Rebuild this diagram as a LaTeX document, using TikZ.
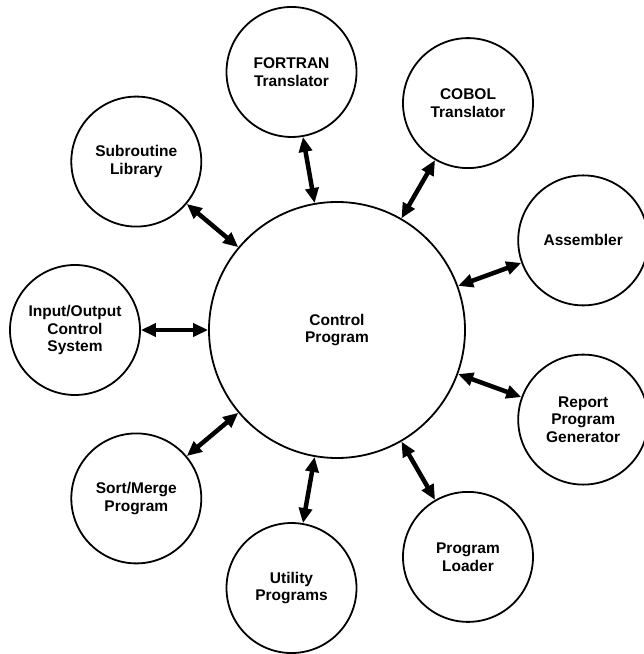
\documentclass[tikz,border=0pt]{standalone}
\usepackage{fontspec}
\setmainfont{Liberation Sans}
\usetikzlibrary{arrows.meta}
\begin{document}
\begin{tikzpicture}[x=1pt,y=1pt,
  every node/.style={font=\fontsize{15.5}{17.7}\selectfont\bfseries, align=center},
  hub/.style={circle, draw, line width=1.8pt, minimum size=256pt, inner sep=0pt, outer sep=0pt},
  sat/.style={circle, draw, line width=1.8pt, minimum size=130pt, inner sep=0pt, outer sep=0pt},
  link/.style={line width=4.5pt, {Triangle[length=15pt,width=13pt]}-{Triangle[length=15pt,width=13pt]}, shorten <=0.9pt, shorten >=0.9pt}]
  \useasboundingbox (0,0) rectangle (644,654);

  % central control program
  \node[hub] (ctrl) at (337,324) {Control\\Program};

  % surrounding system programs, spaced every 40 degrees
  \path (ctrl.center) ++(100:262) node[sat] (fortran) {FORTRAN\\Translator};
  \path (ctrl.center) ++(60:262)  node[sat] (cobol)   {COBOL\\Translator};
  \path (ctrl.center) ++(20:262)  node[sat] (asm)     {Assembler};
  \path (ctrl.center) ++(-20:262) node[sat] (rpg)     {Report\\Program\\Generator};
  \path (ctrl.center) ++(-60:262) node[sat] (loader)  {Program\\Loader};
  \path (ctrl.center) ++(-100:262) node[sat] (util)   {Utility\\Programs};
  \path (ctrl.center) ++(-140:262) node[sat] (sort)   {Sort/Merge\\Program};
  \path (ctrl.center) ++(180:262) node[sat] (iocs)    {Input/Output\\Control\\System};
  \path (ctrl.center) ++(140:262) node[sat] (sub)     {Subroutine\\Library};

  % two-way links to the control program
  \foreach \s in {fortran,cobol,asm,rpg,loader,util,sort,iocs,sub}
    \draw[link] (\s) -- (ctrl);
\end{tikzpicture}
\end{document}
